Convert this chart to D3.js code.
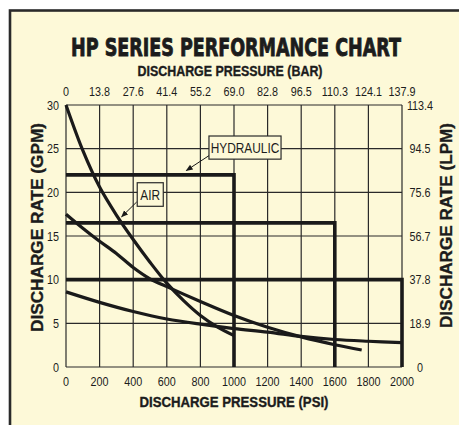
<!DOCTYPE html>
<html>
<head>
  <meta charset="utf-8">
  <script src="https://d3js.org/d3.v7.min.js"></script>
  <style>
    body { margin: 0; background: #fff; }
    text { fill: #1c1c1c; }
    .tick { font-family: "Liberation Sans", Arial, sans-serif; font-size: 13.5px; }
    .ttl { font-family: "Liberation Sans", Arial, sans-serif; font-weight: bold; stroke: #1c1c1c; stroke-width: 0.35px; }
  </style>
</head>
<body>
<script>
  // axis ticks
  var psiTicks = [0, 200, 400, 600, 800, 1000, 1200, 1400, 1600, 1800, 2000];
  var barLabels = ["0", "13.8", "27.6", "41.4", "55.2", "69.0", "82.8", "96.5", "110.3", "124.1", "137.9"];
  var gpmTicks = [0, 5, 10, 15, 20, 25, 30];
  var lpmLabels = ["0", "18.9", "37.8", "56.7", "75.6", "94.5", "113.4"];

  // hydraulic limits: flat rate up to a max pressure
  var hydGpm = [22, 16.5, 10];
  var hydPsi = [1000, 1600, 2000];

  // air curves [psi, gpm]
  var airSteep = [[0, 30], [100, 24.8], [200, 20.6], [300, 17.4], [400, 14.6], [500, 12], [600, 9.6],
                  [700, 7.6], [800, 5.9], [900, 4.6], [1000, 3.6]];
  var airMid = [[0, 17.5], [100, 15.9], [200, 14.4], [300, 13], [400, 11.4], [500, 10.1], [600, 9.2],
                [800, 7.5], [1000, 5.9], [1200, 4.55], [1400, 3.45], [1600, 2.55], [1760, 1.95]];
  var airLow = [[0, 8.6], [200, 7.4], [400, 6.35], [600, 5.5], [800, 4.9], [1000, 4.4], [1200, 4.0],
                [1400, 3.5], [1600, 3.15], [1800, 2.95], [2000, 2.8]];

  var W = 459, H = 425;
  var svg = d3.select("body").append("svg").attr("width", W).attr("height", H);

  // cream panel
  svg.append("rect").attr("x", 10).attr("y", 10.5).attr("width", 470).attr("height", 440)
    .attr("fill", "#fdf9d8").attr("stroke", "#2a2a2a").attr("stroke-width", 2.6);

  var x = d3.scaleLinear().domain([0, 2000]).range([66, 402]);
  var y = d3.scaleLinear().domain([0, 30]).range([367, 105]);

  // narrow text: squeeze regular glyphs horizontally
  function narrow(sel, tx, ty, anchor, k) {
    sel.attr("text-anchor", anchor)
      .attr("transform", function(d, i) { return "translate(" + tx(d, i) + "," + ty(d, i) + ") scale(" + (k || 0.8) + ",1)"; });
    return sel;
  }

  // grid
  svg.append("g").selectAll("line").data(psiTicks).enter().append("line")
    .attr("x1", function(d) { return x(d); }).attr("x2", function(d) { return x(d); })
    .attr("y1", y(0)).attr("y2", y(30))
    .attr("stroke", "#2a2a2a").attr("stroke-width", 1.2);
  svg.append("g").selectAll("line").data(gpmTicks).enter().append("line")
    .attr("y1", function(d) { return y(d); }).attr("y2", function(d) { return y(d); })
    .attr("x1", x(0)).attr("x2", x(2000))
    .attr("stroke", "#2a2a2a").attr("stroke-width", 1.2);

  // tick labels
  narrow(svg.append("g").selectAll("text").data(psiTicks).enter().append("text").attr("class", "tick"),
    function(d) { return x(d); }, function() { return 386; }, "middle")
    .text(function(d) { return d; });
  narrow(svg.append("g").selectAll("text").data(barLabels).enter().append("text").attr("class", "tick"),
    function(d, i) { return x(psiTicks[i]); }, function() { return 96; }, "middle")
    .text(function(d) { return d; });
  narrow(svg.append("g").selectAll("text").data(gpmTicks).enter().append("text").attr("class", "tick"),
    function() { return 59; }, function(d) { return y(d) + 4.5; }, "end")
    .text(function(d) { return d; });
  narrow(svg.append("g").selectAll("text").data(lpmLabels).enter().append("text").attr("class", "tick"),
    function() { return 420; }, function(d, i) { return y(gpmTicks[i]) + 4.5; }, "middle")
    .text(function(d) { return d; });

  // hydraulic limit lines
  var line = d3.line().x(function(d) { return x(d[0]); }).y(function(d) { return y(d[1]); });
  hydGpm.forEach(function(g, i) {
    svg.append("path").attr("d", line([[0, g], [hydPsi[i], g], [hydPsi[i], 0]]))
      .attr("fill", "none").attr("stroke", "#1a1a1a").attr("stroke-width", 3.6);
  });

  // air curves
  var curve = d3.line().x(function(d) { return x(d[0]); }).y(function(d) { return y(d[1]); })
    .curve(d3.curveCatmullRom);
  [airSteep, airMid, airLow].forEach(function(s) {
    svg.append("path").attr("d", curve(s))
      .attr("fill", "none").attr("stroke", "#1a1a1a").attr("stroke-width", 3.2);
  });

  // callouts
  svg.append("defs").append("marker").attr("id", "arr").attr("viewBox", "0 0 10 10")
    .attr("refX", 9).attr("refY", 5).attr("markerWidth", 7).attr("markerHeight", 7)
    .attr("orient", "auto").attr("markerUnits", "userSpaceOnUse")
    .append("path").attr("d", "M0,1 L10,5 L0,9 Z").attr("fill", "#1a1a1a");

  function callout(label, left, right, top, bottom, from, to) {
    var bx = x(left), bw = x(right) - x(left), by = y(top), bh = y(bottom) - y(top);
    svg.append("rect").attr("x", bx).attr("y", by).attr("width", bw).attr("height", bh)
      .attr("fill", "#fdf9d8").attr("stroke", "#2a2a2a").attr("stroke-width", 1.2);
    narrow(svg.append("text").datum(label).attr("class", "tick").style("font-size", "14.5px"),
      function() { return bx + bw / 2; }, function() { return by + bh / 2 + 5.5; }, "middle", 0.82)
      .text(label);
    svg.append("line").attr("x1", x(from[0])).attr("y1", y(from[1]))
      .attr("x2", x(to[0])).attr("y2", y(to[1]))
      .attr("stroke", "#1a1a1a").attr("stroke-width", 1).attr("marker-end", "url(#arr)");
  }
  callout("HYDRAULIC", 851, 1280, 26.45, 23.8, [851, 24.2], [716, 22.5]);
  callout("AIR", 424, 579, 21.1, 18.4, [421, 18.9], [331, 17.2]);

  // main title: squeezed to the reference width
  var title = svg.append("text").attr("text-anchor", "middle")
    .style("font-family", "'DejaVu Sans', sans-serif").style("font-weight", "bold").style("font-size", "24px")
    .style("stroke", "#1c1c1c").style("stroke-width", "0.9px")
    .text("HP SERIES PERFORMANCE CHART");
  var tw = title.node().getComputedTextLength();
  title.attr("transform", "translate(236,56) scale(" + (330 / tw) + ",1)");

  svg.append("text").attr("class", "ttl").attr("x", 230).attr("y", 76).attr("text-anchor", "middle")
    .attr("textLength", 185).attr("lengthAdjust", "spacingAndGlyphs").style("font-size", "14.5px")
    .text("DISCHARGE PRESSURE (BAR)");
  svg.append("text").attr("class", "ttl").attr("x", 234).attr("y", 407).attr("text-anchor", "middle")
    .attr("textLength", 189).attr("lengthAdjust", "spacingAndGlyphs").style("font-size", "15px")
    .text("DISCHARGE PRESSURE (PSI)");
  svg.append("text").attr("class", "ttl").attr("transform", "translate(43,227.5) rotate(-90)")
    .attr("text-anchor", "middle").attr("textLength", 209).attr("lengthAdjust", "spacingAndGlyphs")
    .style("font-size", "16px").text("DISCHARGE RATE (GPM)");
  svg.append("text").attr("class", "ttl").attr("transform", "translate(452,225.5) rotate(-90)")
    .attr("text-anchor", "middle").attr("textLength", 205).attr("lengthAdjust", "spacingAndGlyphs")
    .style("font-size", "16px").text("DISCHARGE RATE (LPM)");
</script>
</body>
</html>
